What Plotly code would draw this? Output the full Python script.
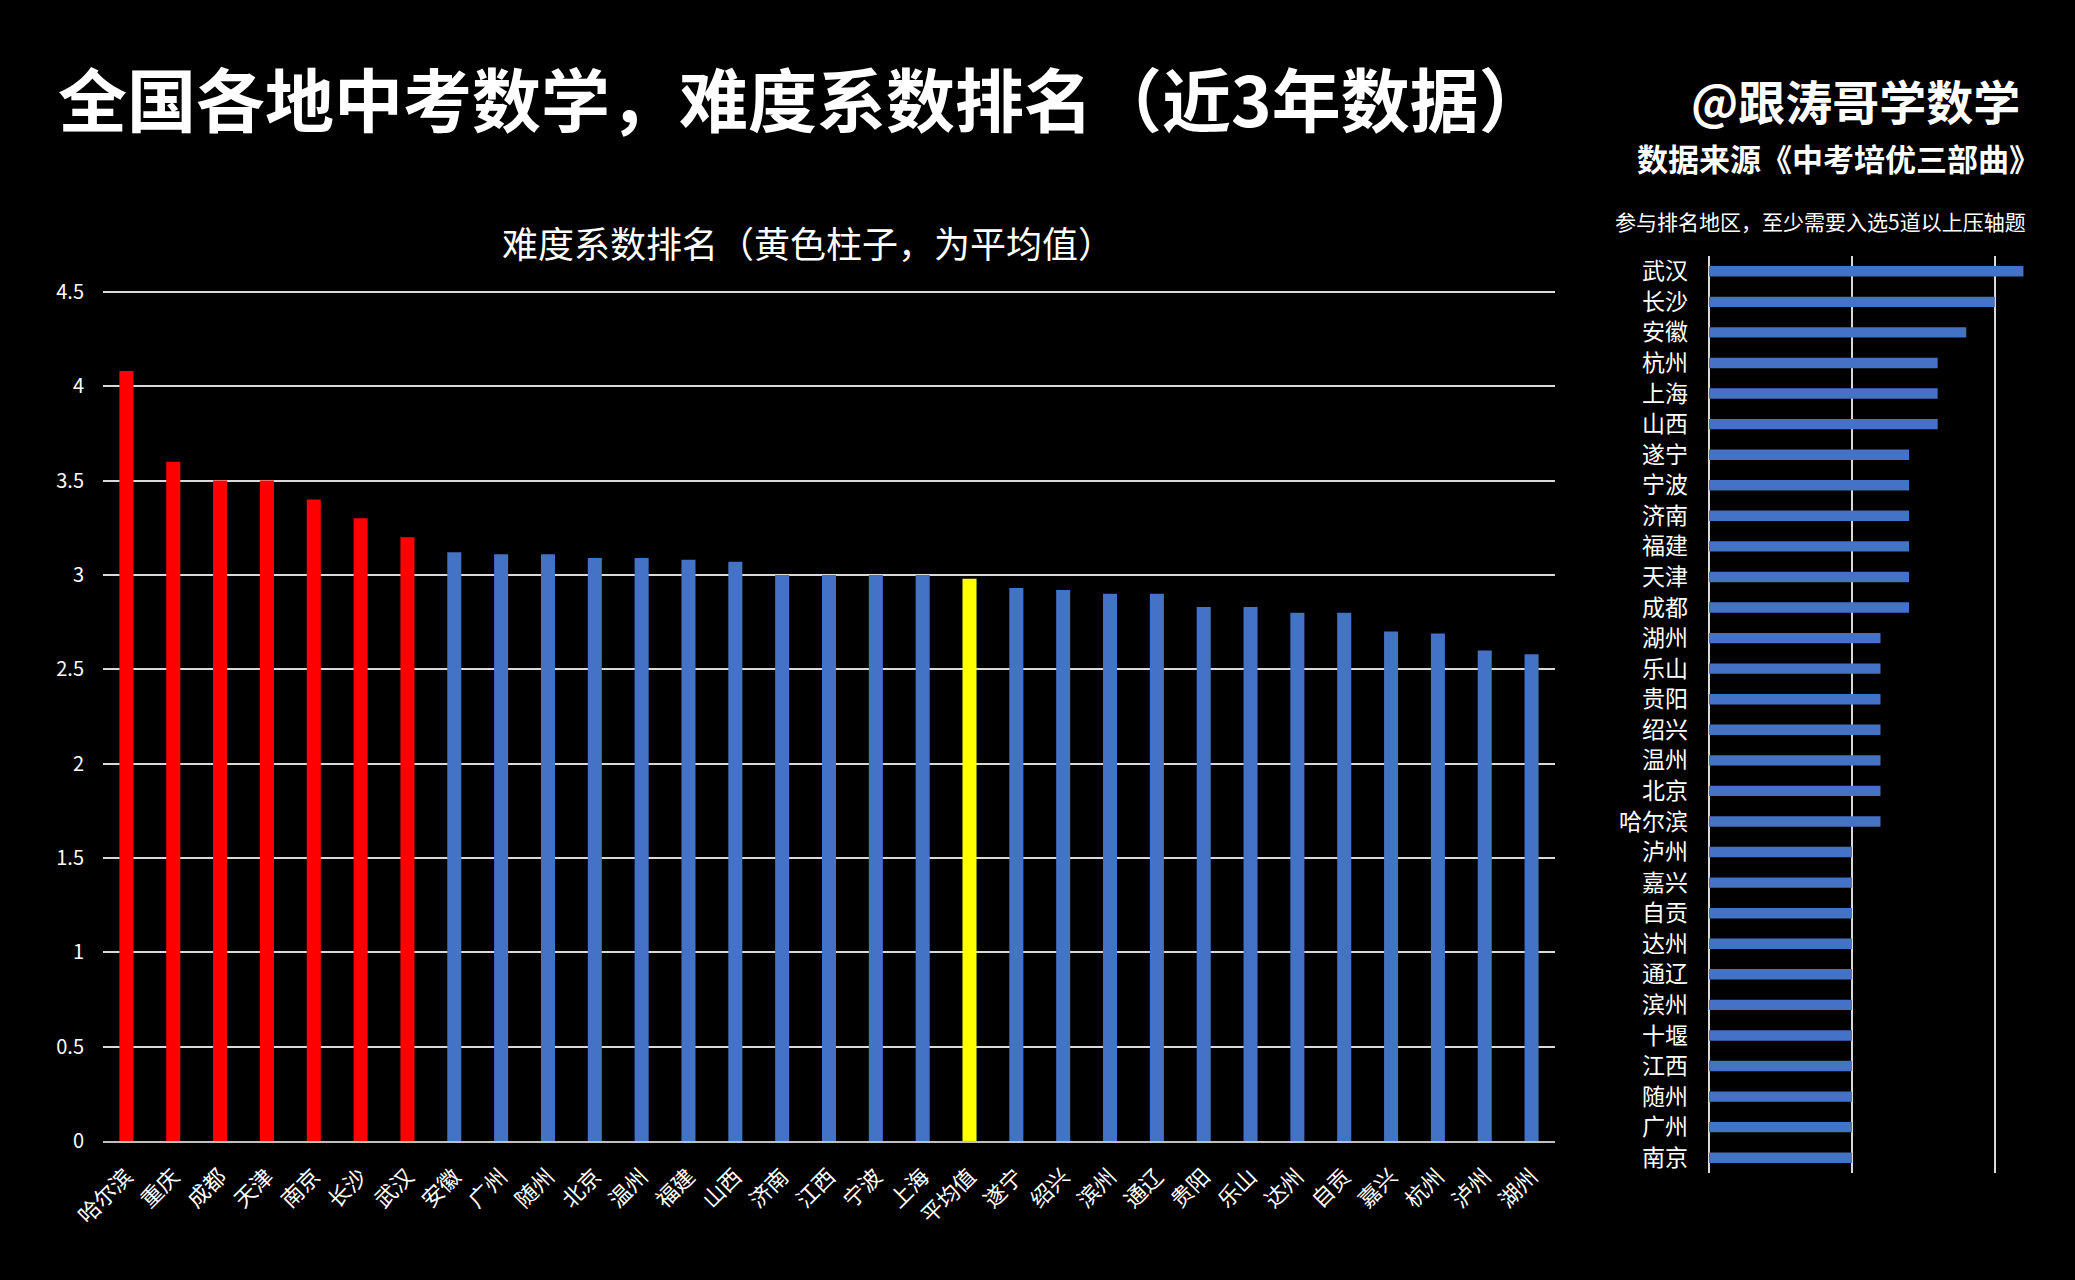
import plotly.graph_objects as go

# ---- Left chart data: difficulty coefficient ranking ----
cities = ["哈尔滨", "重庆", "成都", "天津", "南京", "长沙", "武汉", "安徽", "广州", "随州",
          "北京", "温州", "福建", "山西", "济南", "江西", "宁波", "上海", "平均值", "遂宁",
          "绍兴", "滨州", "通辽", "贵阳", "乐山", "达州", "自贡", "嘉兴", "杭州", "泸州", "湖州"]
difficulty = [4.08, 3.6, 3.5, 3.5, 3.4, 3.3, 3.2, 3.12, 3.11, 3.11,
              3.09, 3.09, 3.08, 3.07, 3.0, 3.0, 3.0, 3.0, 2.98, 2.93,
              2.92, 2.9, 2.9, 2.83, 2.83, 2.8, 2.8, 2.7, 2.69, 2.6, 2.58]
n_top = 7
avg_label = "平均值"
y_ticks = [0, 0.5, 1, 1.5, 2, 2.5, 3, 3.5, 4, 4.5]

# ---- Right chart data: number of selected final problems ----
regions = ["武汉", "长沙", "安徽", "杭州", "上海", "山西", "遂宁", "宁波", "济南", "福建",
           "天津", "成都", "湖州", "乐山", "贵阳", "绍兴", "温州", "北京", "哈尔滨", "泸州",
           "嘉兴", "自贡", "达州", "通辽", "滨州", "十堰", "江西", "随州", "广州", "南京"]
counts = [11, 10, 9, 8, 8, 8, 7, 7, 7, 7,
          7, 7, 6, 6, 6, 6, 6, 6, 6, 5,
          5, 5, 5, 5, 5, 5, 5, 5, 5, 5]

RED, BLUE, YELLOW = "#ff0000", "#4472c4", "#ffff00"
colors = []
for i, c in enumerate(cities):
    if c == avg_label:
        colors.append(YELLOW)
    elif i < n_top:
        colors.append(RED)
    else:
        colors.append(BLUE)

FONT = "Noto Sans CJK SC"
W, H = 2075, 1280

fig = go.Figure()
fig.add_trace(go.Bar(x=cities, y=difficulty, marker=dict(color=colors, line=dict(width=0)),
                     xaxis="x", yaxis="y", showlegend=False))
fig.add_trace(go.Bar(x=counts, y=regions, orientation="h", width=0.34,
                     marker=dict(color=BLUE, line=dict(width=0)),
                     xaxis="x2", yaxis="y2", showlegend=False))

fig.update_layout(
    width=W, height=H,
    paper_bgcolor="#000000", plot_bgcolor="#000000",
    margin=dict(l=0, r=0, t=0, b=0, pad=0, autoexpand=False),
    font=dict(family=FONT, color="#ffffff"),
    bargap=0.7,
    xaxis=dict(domain=[103 / W, 1555 / W], anchor="y", type="category", automargin=False,
               tickangle=-45, tickfont=dict(size=22, color="#ffffff"),
               showline=True, linecolor="#bfbfbf", linewidth=2,
               showgrid=False, ticks="", ticklabelstandoff=12),
    yaxis=dict(domain=[(H - 1141) / H, (H - 273) / H], anchor="x", automargin=False,
               range=[0, 4.6], tickvals=y_ticks,
               showgrid=True, gridcolor="#d9d9d9", gridwidth=2,
               zeroline=False, showline=False, ticks="",
               tickfont=dict(size=20, color="#ffffff"), ticklabelstandoff=18),
    xaxis2=dict(domain=[1709 / W, 2052 / W], anchor="y2", range=[0, 12], automargin=False,
                dtick=5, showgrid=True, gridcolor="#d9d9d9", gridwidth=2,
                zeroline=True, zerolinecolor="#d9d9d9", zerolinewidth=2,
                showticklabels=False, ticks=""),
    yaxis2=dict(domain=[(H - 1173) / H, (H - 256) / H], anchor="x2", automargin=False,
                type="category", autorange="reversed",
                showgrid=False, zeroline=False, ticks="",
                tickfont=dict(size=23, color="#ffffff"), ticklabelstandoff=20),
)

annotations = [
    dict(text="<b>全国各地中考数学，难度系数排名（近3年数据）</b>", x=56 / W, y=1 - 97 / H,
         xanchor="left", yanchor="middle", font=dict(size=69, color="#ffffff", family=FONT)),
    dict(text="<b>@跟涛哥学数学</b>", x=1855 / W, y=1 - 99 / H,
         xanchor="center", yanchor="middle", font=dict(size=47, color="#ffffff", family=FONT)),
    dict(text="<b>数据来源《中考培优三部曲》</b>", x=1838 / W, y=1 - 157 / H,
         xanchor="center", yanchor="middle", font=dict(size=31, color="#ffffff", family=FONT)),
    dict(text="参与排名地区，至少需要入选5道以上压轴题", x=1820 / W, y=1 - 221 / H,
         xanchor="center", yanchor="middle", font=dict(size=21, color="#ffffff", family=FONT)),
    dict(text="难度系数排名（黄色柱子，为平均值）", x=808 / W, y=1 - 242 / H,
         xanchor="center", yanchor="middle", font=dict(size=36, color="#ffffff", family=FONT)),
]
for a in annotations:
    a.update(xref="paper", yref="paper", showarrow=False)
fig.update_layout(annotations=annotations)

fig.write_html("out.html", config={"displayModeBar": False},
               post_script="document.body.style.margin='0';document.body.style.background='#000';")
